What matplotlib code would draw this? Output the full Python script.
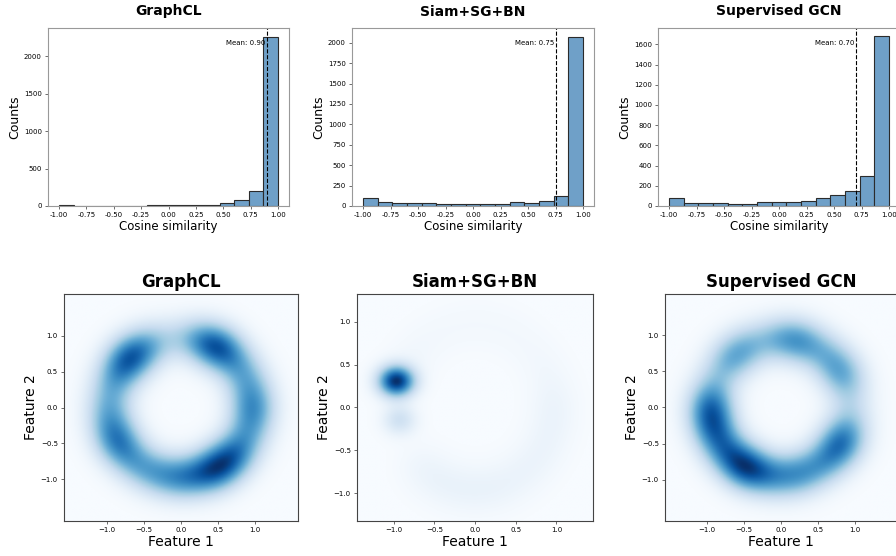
import numpy as np
import matplotlib
matplotlib.use("Agg")
from matplotlib import pyplot as plt

# ---- histogram data (15 bins between -1 and 1) ----
bin_lo = -1.0
bin_hi = 1.0
n_bins = 15
titles = ["GraphCL", "Siam+SG+BN", "Supervised GCN"]
graphcl_counts = [8, 6, 6, 6, 6, 6, 7, 7, 8, 15, 18, 40, 85, 200, 2262]
siam_counts = [95, 50, 40, 40, 38, 20, 30, 20, 20, 30, 45, 38, 58, 118, 2070]
supervised_counts = [82, 30, 25, 28, 22, 22, 35, 35, 35, 52, 75, 105, 150, 300, 1680]
mean_values = [0.90, 0.75, 0.70]
hist_ylims = [2380, 2180, 1762]
hist_yticks = [[0, 500, 1000, 1500, 2000],
               [0, 250, 500, 750, 1000, 1250, 1500, 1750, 2000],
               [0, 200, 400, 600, 800, 1000, 1200, 1400, 1600]]
hist_xticks = [-1.0, -0.75, -0.5, -0.25, 0.0, 0.25, 0.5, 0.75, 1.0]

# ---- 2D feature density ----
# ring intensity read every 15 degrees (counter-clockwise from +x axis)
ring_angles = [0, 15, 30, 45, 60, 75, 90, 105, 120, 135, 150, 165,
               180, 195, 210, 225, 240, 255, 270, 285, 300, 315, 330, 345]
graphcl_ring = [0.70, 0.50, 0.45, 0.55, 1.05, 0.60, 0.20, 0.25, 0.60, 1.00, 0.60, 0.40,
                0.45, 0.60, 0.80, 0.50, 0.50, 0.55, 0.65, 0.70, 1.05, 0.85, 0.50, 0.50]
siam_ring = [0.035, 0.02, 0.015, 0.012, 0.012, 0.012, 0.012, 0.012, 0.012, 0.015, 0.02, 0.0,
             0.0, 0.0, 0.0, 0.03, 0.035, 0.035, 0.035, 0.035, 0.03, 0.03, 0.03, 0.03]
supervised_ring = [0.15, 0.25, 0.55, 0.40, 0.35, 0.60, 0.45, 0.25, 0.45, 0.50, 0.22, 0.35,
                   0.80, 0.75, 0.60, 0.65, 1.00, 0.60, 0.50, 0.55, 0.45, 0.55, 0.80, 0.35]
ring_radius = [0.98, 0.97, 0.96]
ring_sigma = [0.21, 0.20, 0.21]
# extra isolated clusters (x, y, weight, sigma_x, sigma_y)
graphcl_spots = []
siam_spots = [(-0.97, 0.30, 1.00, 0.15, 0.12), (-0.93, -0.15, 0.20, 0.14, 0.12)]
supervised_spots = []
kde_limits = [(1.58, 1.58), (1.45, 1.32), (1.57, 1.57)]
kde_ticks = [-1.0, -0.5, 0.0, 0.5, 1.0]


def density(ring, radius, sigma, spots, xlim, ylim, n=300):
    xs = np.linspace(-xlim, xlim, n)
    ys = np.linspace(-ylim, ylim, n)
    gx, gy = np.meshgrid(xs, ys)
    z = np.zeros_like(gx)
    for ang, w in zip(ring_angles, ring):
        bx = radius * np.cos(np.radians(ang))
        by = radius * np.sin(np.radians(ang))
        z += w * np.exp(-((gx - bx) ** 2 + (gy - by) ** 2) / (2 * sigma * sigma))
    for bx, by, w, sx, sy in spots:
        z += w * np.exp(-(gx - bx) ** 2 / (2 * sx * sx) - (gy - by) ** 2 / (2 * sy * sy))
    return z / z.max()


fig = plt.figure(figsize=(8.96, 5.56), dpi=100)
W, H = 896.0, 556.0

# pixel boxes: left, top, width, height
top_boxes = [(48, 28, 241, 178), (352, 28, 242, 178), (658, 28, 242, 178)]
bottom_boxes = [(64, 294, 234, 227), (357, 294, 236, 227), (665, 294, 232, 227)]

all_counts = [graphcl_counts, siam_counts, supervised_counts]
edges = np.linspace(bin_lo, bin_hi, n_bins + 1)

for i in range(3):
    l, t, w, h = top_boxes[i]
    ax = fig.add_axes([l / W, 1 - (t + h) / H, w / W, h / H])
    ax.bar(edges[:-1], all_counts[i], width=np.diff(edges), align='edge',
           color='#6fa0c8', edgecolor='#2b2b2b', linewidth=0.8)
    ax.axvline(mean_values[i], color='black', linestyle='--', linewidth=0.8)
    ax.text(mean_values[i] - 0.015, 0.915, 'Mean: %.2f' % mean_values[i],
            transform=ax.get_xaxis_transform(), ha='right', va='center', fontsize=5)
    ax.set_xlim(-1.1, 1.1)
    ax.set_ylim(0, hist_ylims[i])
    ax.set_xticks(hist_xticks)
    ax.set_xticklabels(['%.2f' % v for v in hist_xticks])
    ax.set_yticks(hist_yticks[i])
    ax.tick_params(labelsize=5, length=2.5, width=0.6, pad=2, color='#555555')
    for sp in ax.spines.values():
        sp.set_color('#999999')
        sp.set_linewidth(0.8)
    ax.set_title(titles[i], fontsize=10, fontweight='bold', pad=9)
    ax.set_xlabel('Cosine similarity', fontsize=8.5, labelpad=1)
    ax.set_ylabel('Counts', fontsize=9, labelpad=2)

all_rings = [graphcl_ring, siam_ring, supervised_ring]
all_spots = [graphcl_spots, siam_spots, supervised_spots]
for i in range(3):
    l, t, w, h = bottom_boxes[i]
    ax = fig.add_axes([l / W, 1 - (t + h) / H, w / W, h / H])
    xl, yl = kde_limits[i]
    z = density(all_rings[i], ring_radius[i], ring_sigma[i], all_spots[i], xl, yl)
    ax.imshow(z, extent=(-xl, xl, -yl, yl), origin='lower', cmap='Blues',
              vmin=0, vmax=1.0, aspect='auto', interpolation='bilinear')
    ax.set_xlim(-xl, xl)
    ax.set_ylim(-yl, yl)
    ax.set_xticks(kde_ticks)
    ax.set_yticks(kde_ticks)
    ax.tick_params(labelsize=5, length=2.5, width=0.6, pad=2, color='#555555')
    for sp in ax.spines.values():
        sp.set_color('#444444')
        sp.set_linewidth(0.8)
    ax.set_title(titles[i], fontsize=12, fontweight='bold', pad=5)
    ax.set_xlabel('Feature 1', fontsize=10, labelpad=1)
    ax.set_ylabel('Feature 2', fontsize=10, labelpad=2)

fig.savefig('out.png', dpi=100)
